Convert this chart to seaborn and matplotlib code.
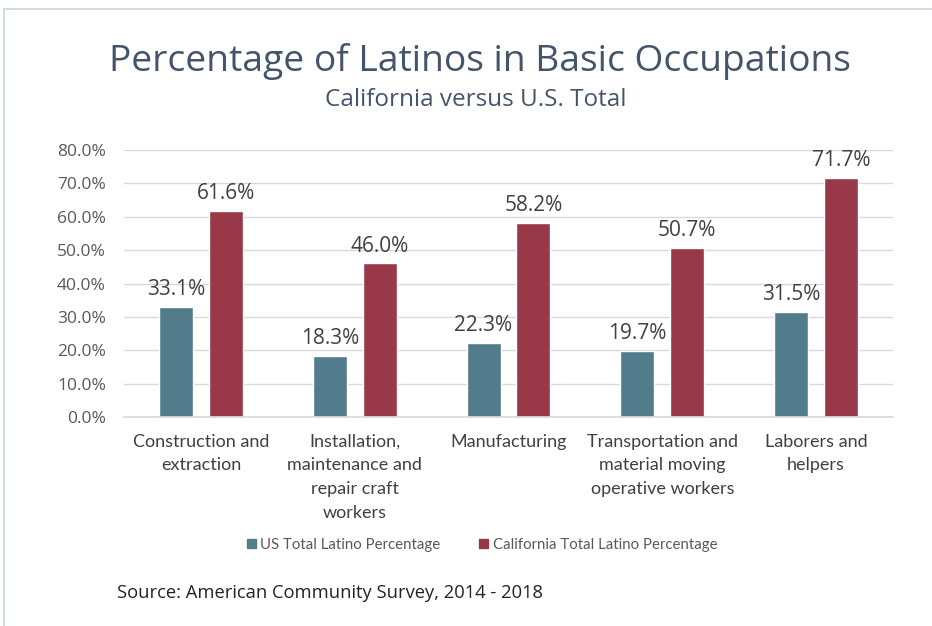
import matplotlib
matplotlib.use("Agg")
import matplotlib.pyplot as plt
import seaborn as sns
import pandas as pd
from matplotlib.lines import Line2D
from matplotlib.patches import Rectangle

categories = [
    "Construction and\nextraction",
    "Installation,\nmaintenance and\nrepair craft\nworkers",
    "Manufacturing",
    "Transportation and\nmaterial moving\noperative workers",
    "Laborers and\nhelpers",
]
series_names = ["US Total Latino Percentage", "California Total Latino Percentage"]
us_values = [33.1, 18.3, 22.3, 19.7, 31.5]
ca_values = [61.6, 46.0, 58.2, 50.7, 71.7]
y_ticks = [0, 10, 20, 30, 40, 50, 60, 70, 80]

colors = ["#527B8C", "#983848"]

df = pd.DataFrame({
    "category": categories * 2,
    "series": [series_names[0]] * 5 + [series_names[1]] * 5,
    "value": us_values + ca_values,
})

sns.set_theme(style="white")
plt.rcParams["font.family"] = ["Lato", "DejaVu Sans"]
head_font = ["Open Sans", "DejaVu Sans"]

W, H = 932, 626
fig = plt.figure(figsize=(W / 100, H / 100), dpi=100)
ax = fig.add_axes([124 / W, (H - 417) / H, (893 - 124) / W, (417 - 150) / H])

sns.barplot(data=df, x="category", y="value", hue="series", palette=colors,
            width=0.65, gap=0.32, ax=ax, legend=False, saturation=1)

ax.set_ylim(0, 80)
ax.set_xlim(-0.5, 4.5)
ax.set_yticks(y_ticks)
ax.set_yticklabels([f"{v:.1f}%" for v in y_ticks], color="#595959", fontsize=12.5,
                   family=head_font)
ax.tick_params(axis="y", length=0, pad=13)
ax.tick_params(axis="x", length=0, pad=12)
for lbl in ax.get_xticklabels():
    lbl.set_fontsize(13)
    lbl.set_color("#404040")
    lbl.set_linespacing(1.6)
    lbl.set_verticalalignment("top")
ax.set_xlabel("")
ax.set_ylabel("")
ax.grid(axis="y", color="#D9D9D9", linewidth=1)
ax.set_axisbelow(True)
for s in ["top", "right", "left"]:
    ax.spines[s].set_visible(False)
ax.spines["bottom"].set_color("#D9D9D9")

for cont in ax.containers:
    ax.bar_label(cont, labels=[f"{v:.1f}%" for v in cont.datavalues],
                 padding=5, fontsize=15, color="#404040", family=head_font)

fig.text(480 / W, 1 - 61 / H, "Percentage of Latinos in Basic Occupations",
         ha="center", va="center", fontsize=26.8, color="#44546A", family=head_font)
fig.text(476 / W, 1 - 100 / H, "California versus U.S. Total",
         ha="center", va="center", fontsize=17.5, color="#44546A", family=head_font)

handles = [Rectangle((0, 0), 1, 1, color=c) for c in colors]
fig.legend(handles, series_names, loc="center", bbox_to_anchor=(482 / W, 1 - 545 / H),
           ncol=2, frameon=False, fontsize=10.8, handlelength=0.6, handleheight=0.6,
           handletextpad=0.3, columnspacing=2.6, labelcolor="#595959")

fig.text(117 / W, 1 - 593 / H, "Source: American Community Survey, 2014 - 2018",
         ha="left", va="center", fontsize=13.2, color="#222222", family=head_font)

fig.add_artist(Line2D([4 / W, 1], [1 - 9 / H, 1 - 9 / H], color="#C5D5E4", linewidth=1.2,
                      transform=fig.transFigure))
fig.add_artist(Line2D([4 / W, 4 / W], [0, 1 - 9 / H], color="#C5D5E4", linewidth=1.2,
                      transform=fig.transFigure))

fig.savefig("out.png", dpi=100)
